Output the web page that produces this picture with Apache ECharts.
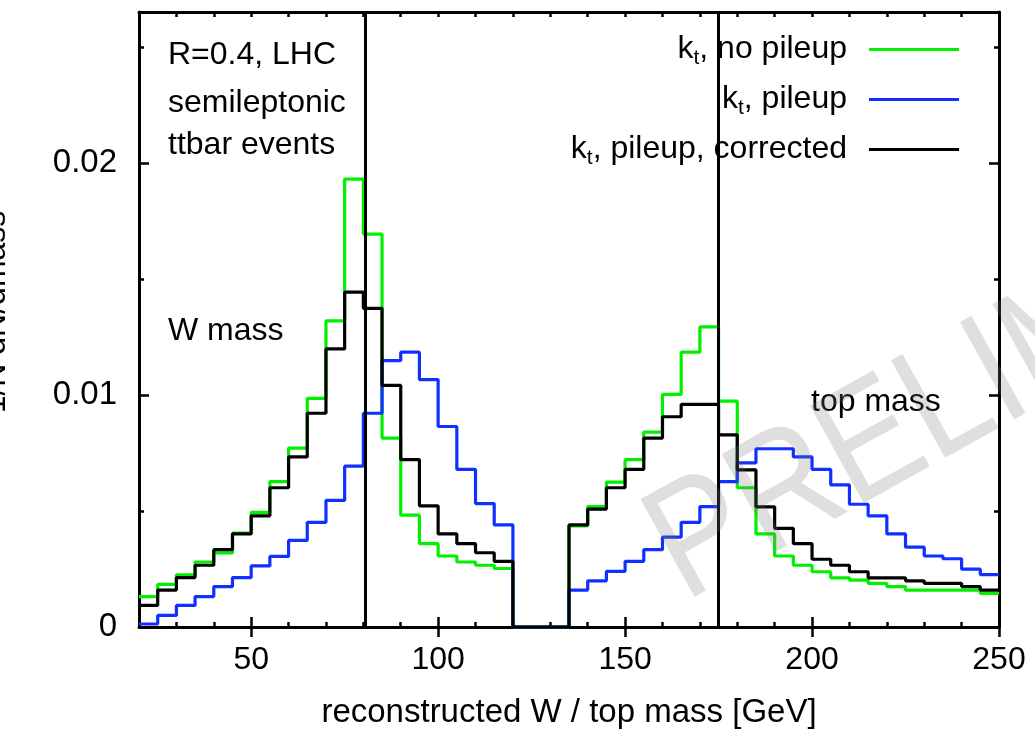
<!DOCTYPE html>
<html><head><meta charset="utf-8">
<script src="https://cdn.jsdelivr.net/npm/echarts@6/dist/echarts.min.js"></script>
<style>html,body{margin:0;padding:0;background:#fff}#c{width:1035px;height:734px}</style>
</head><body><div id="c"></div>
<script>
// ---- data (bin contents, 5 GeV bins) ----
const binWidth = 5;
const wRange = [20, 120];     // W-mass window bins
const topRange = [135, 250];  // top-mass window bins
const seriesNames = ['k_t, no pileup', 'k_t, pileup', 'k_t, pileup, corrected'];
const greenW = [0.00131,0.00184,0.00225,0.00280,0.00319,0.00405,0.00494,0.00626,0.00771,0.00985,0.01319,0.01930,0.01693,0.00814,0.00482,0.00359,0.00306,0.00280,0.00266,0.00252];
const blueW  = [0.00013,0.00050,0.00093,0.00131,0.00174,0.00213,0.00263,0.00304,0.00373,0.00451,0.00546,0.00693,0.00921,0.01148,0.01184,0.01066,0.00864,0.00679,0.00532,0.00440];
const blackW = [0.00093,0.00159,0.00213,0.00266,0.00333,0.00401,0.00479,0.00600,0.00733,0.00921,0.01198,0.01443,0.01373,0.01041,0.00721,0.00522,0.00401,0.00359,0.00320,0.00283];
const greenTop = [0.00436,0.00519,0.00624,0.00721,0.00840,0.01002,0.01184,0.01293,0.00973,0.00600,0.00401,0.00306,0.00266,0.00238,0.00212,0.00202,0.00188,0.00174,0.00159,0.00159,0.00159,0.00159,0.00145];
const blueTop  = [0.00159,0.00199,0.00240,0.00283,0.00333,0.00387,0.00451,0.00519,0.00626,0.00707,0.00768,0.00768,0.00733,0.00679,0.00612,0.00529,0.00479,0.00401,0.00344,0.00306,0.00294,0.00249,0.00226];
const blackTop = [0.00440,0.00508,0.00600,0.00679,0.00814,0.00906,0.00959,0.00959,0.00828,0.00677,0.00518,0.00425,0.00359,0.00292,0.00266,0.00238,0.00212,0.00212,0.00199,0.00188,0.00188,0.00174,0.00159];
const massLines = [80.4, 175];
const xMajorTicks = [50, 100, 150, 200, 250];
const yMajorTicks = [0, 0.01, 0.02];

// ---- build histogram step outlines ----
function steps(wVals, tVals) {
  const p = [];
  wVals.forEach((v, i) => { p.push([wRange[0] + i*binWidth, v], [wRange[0] + (i+1)*binWidth, v]); });
  p.push([wRange[1], 0], [topRange[0], 0]);
  tVals.forEach((v, i) => { p.push([topRange[0] + i*binWidth, v], [topRange[0] + (i+1)*binWidth, v]); });
  return p;
}

const FONT = 'Liberation Sans, Arial, Helvetica, sans-serif';
const chart = echarts.init(document.getElementById('c'), null, {renderer: 'canvas'});
const axBase = {type: 'value', min: 20, max: 250, splitLine: {show: false},
  axisLine: {show: true, onZero: false, lineStyle: {color: '#000', width: 3}}};
const ayBase = {type: 'value', min: 0, max: 0.0265, splitLine: {show: false},
  axisLine: {show: true, onZero: false, lineStyle: {color: '#000', width: 3}}};
const tickStyle = {color: '#000', width: 2.5};

function lineSeries(name, color, data, extra) {
  return Object.assign({
    name, type: 'line', data, symbol: 'none', showSymbol: false, animation: false,
    lineStyle: {color, width: 3.2}, itemStyle: {color}, z: 3
  }, extra || {});
}

const option = {
  animation: false,
  backgroundColor: '#fff',
  textStyle: {fontFamily: FONT},
  grid: {left: 139, top: 12, width: 860, height: 622, containLabel: false},
  legend: {
    orient: 'vertical', right: 71, top: 25, align: 'right', icon: 'rect',
    itemWidth: 90, itemHeight: 3, itemGap: 11,
    data: seriesNames,
    textStyle: {fontSize: 32, fontFamily: FONT, color: '#000', padding: [0, 17, 0, 0],
      rich: {n: {fontSize: 32, fontFamily: FONT, color: '#000', lineHeight: 38},
             s: {fontSize: 21, fontFamily: FONT, color: '#000', lineHeight: 38, padding: [18, 0, 0, 0]}}},
    formatter: name => '{n|k}{s|t}{n|' + name.slice(3) + '}'
  },
  xAxis: [
    Object.assign({}, axBase, {position: 'bottom', interval: 10,
      axisTick: {show: true, inside: true, length: 5, lineStyle: tickStyle}, axisLabel: {show: false}}),
    Object.assign({}, axBase, {position: 'bottom', axisLine: {show: false},
      axisTick: {show: true, inside: true, length: 10, lineStyle: tickStyle, customValues: xMajorTicks},
      axisLabel: {show: true, customValues: xMajorTicks, fontSize: 32, color: '#000', fontFamily: FONT, margin: 17},
      name: 'reconstructed W / top mass [GeV]', nameLocation: 'middle', nameGap: 69,
      nameTextStyle: {fontSize: 33, color: '#000', fontFamily: FONT}}),
    Object.assign({}, axBase, {position: 'top', interval: 10,
      axisTick: {show: true, inside: true, length: 5, lineStyle: tickStyle}, axisLabel: {show: false}}),
    Object.assign({}, axBase, {position: 'top', axisLine: {show: false},
      axisTick: {show: true, inside: true, length: 10, lineStyle: tickStyle, customValues: xMajorTicks},
      axisLabel: {show: false}})
  ],
  yAxis: [
    Object.assign({}, ayBase, {position: 'left', interval: 0.005,
      axisTick: {show: true, inside: true, length: 5, lineStyle: tickStyle}, axisLabel: {show: false}}),
    Object.assign({}, ayBase, {position: 'left', axisLine: {show: false},
      axisTick: {show: true, inside: true, length: 10, lineStyle: tickStyle, customValues: yMajorTicks},
      axisLabel: {show: true, customValues: yMajorTicks, fontSize: 33, color: '#000', fontFamily: FONT, margin: 22,
        formatter: v => v === 0 ? '0' : v.toFixed(2)}}),
    Object.assign({}, ayBase, {position: 'right', interval: 0.005,
      axisTick: {show: true, inside: true, length: 5, lineStyle: tickStyle}, axisLabel: {show: false}}),
    Object.assign({}, ayBase, {position: 'right', axisLine: {show: false},
      axisTick: {show: true, inside: true, length: 10, lineStyle: tickStyle, customValues: yMajorTicks},
      axisLabel: {show: false}})
  ],
  series: [
    lineSeries(seriesNames[0], '#00f000', steps(greenW, greenTop)),
    lineSeries(seriesNames[1], '#1030ff', steps(blueW, blueTop)),
    lineSeries(seriesNames[2], '#000000', steps(blackW, blackTop), {
      markLine: {silent: true, symbol: 'none', animation: false, label: {show: false},
        lineStyle: {color: '#000', width: 3, type: 'solid'},
        data: massLines.map(m => ({xAxis: m}))}
    })
  ],
  graphic: [
    {type: 'text', left: 168, top: 39, style: {text: 'R=0.4, LHC', font: '32px ' + FONT, fill: '#000'}},
    {type: 'text', left: 168, top: 87, style: {text: 'semileptonic', font: '32px ' + FONT, fill: '#000'}},
    {type: 'text', left: 168, top: 129, style: {text: 'ttbar events', font: '32px ' + FONT, fill: '#000'}},
    {type: 'text', left: 168, top: 315, style: {text: 'W mass', font: '32px ' + FONT, fill: '#000'}},
    {type: 'text', left: 811, top: 386, style: {text: 'top mass', font: '32px ' + FONT, fill: '#000'}},
    {type: 'text', x: 12, y: 312, rotation: Math.PI/2,
      style: {text: '1/N dN/dmass', font: '32px ' + FONT, fill: '#000', align: 'center', verticalAlign: 'bottom'}},
    {type: 'text', x: 702, y: 634, rotation: 29*Math.PI/180, scaleX: 0.86, z: 100, silent: true,
      style: {text: 'PRELIMINARY', font: '162px ' + FONT, fill: 'rgba(120,120,120,0.24)', align: 'left', verticalAlign: 'bottom'}}
  ]
};
chart.setOption(option);
</script></body></html>
